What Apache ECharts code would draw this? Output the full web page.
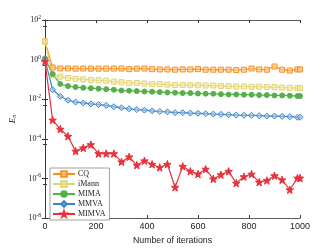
<!DOCTYPE html>
<html><head><meta charset="utf-8">
<script src="https://cdn.jsdelivr.net/npm/echarts@6/dist/echarts.min.js"></script>
<style>html,body{margin:0;padding:0;background:#fff}#c{width:332px;height:250px}</style>
</head><body><div id="c"></div>
<script>
const iterations = [0,30,60,90,120,150,180,210,240,270,300,330,360,390,420,450,480,510,540,570,600,630,660,690,720,750,780,810,840,870,900,930,960,990,1000];
const CQ = [8.3,0.40,0.36,0.36,0.35,0.355,0.35,0.35,0.35,0.355,0.355,0.33,0.35,0.355,0.33,0.32,0.32,0.31,0.32,0.32,0.33,0.31,0.31,0.31,0.31,0.295,0.31,0.355,0.32,0.31,0.45,0.31,0.28,0.32,0.32];
const iMann = [8.3,0.166,0.138,0.117,0.107,0.100,0.093,0.091,0.087,0.078,0.072,0.066,0.065,0.062,0.059,0.058,0.055,0.052,0.052,0.051,0.051,0.049,0.049,0.047,0.046,0.044,0.044,0.043,0.043,0.041,0.041,0.039,0.038,0.036,0.036];
const MIMA = [1.15,0.186,0.059,0.046,0.041,0.038,0.036,0.034,0.032,0.030,0.0275,0.027,0.0257,0.0245,0.024,0.023,0.022,0.0214,0.0204,0.0204,0.0195,0.019,0.019,0.018,0.0174,0.0174,0.017,0.017,0.0162,0.0162,0.0155,0.0155,0.0151,0.0145,0.0145];
const MMVA = [1.0,0.030,0.0141,0.0089,0.0072,0.0065,0.0058,0.0054,0.0049,0.0042,0.0037,0.0033,0.0030,0.0028,0.0026,0.0024,0.0023,0.0021,0.0021,0.0020,0.00195,0.00186,0.00178,0.00174,0.00166,0.00158,0.00155,0.00155,0.00148,0.00141,0.00141,0.00138,0.00132,0.00123,0.00123];
const MIMVA = [0.8,8.9e-4,3.1e-4,1.35e-4,2.4e-5,3.5e-5,5.1e-5,1.8e-5,1.8e-5,1.8e-5,6.9e-6,1.23e-5,4.7e-6,7.8e-6,5.2e-6,3.6e-6,5.2e-6,3.6e-7,4.1e-6,2.3e-6,1.66e-6,2.95e-6,9.5e-7,1.55e-6,2.3e-6,5.8e-7,1.23e-6,1.66e-6,6.5e-7,7.9e-7,1.38e-6,8.5e-7,2.7e-7,1.05e-6,1.05e-6];
const xTicks = [0,200,400,600,800,1000];

const star = 'path://M0,-10L2.35,-3.24L9.51,-3.09L3.8,1.24L5.88,8.09L0,4L-5.88,8.09L-3.8,1.24L-9.51,-3.09L-2.35,-3.24Z';
const pair = arr => iterations.map((x,i)=>[x,arr[i]]);
function mk(name, arr, color, symbol, size, fill){
  return {name, type:'line', data:pair(arr), symbol, symbolSize:size,
    lineStyle:{color, width:1.2}, itemStyle:{color:fill, borderColor:color, borderWidth:1},
    emphasis:{disabled:true}, animation:false};
}
const chart = echarts.init(document.getElementById('c'), null, {renderer:'canvas'});
const axCol = '#333';
chart.setOption({
  animation:false,
  grid:{left:43, right:32, top:20, bottom:29, show:false},
  legend:{orient:'vertical', left:50, top:168, itemWidth:22, itemHeight:7, itemGap:2,
    padding:[2,4,2,2], borderColor:'#888', borderWidth:0.8, backgroundColor:'#fff',
    textStyle:{fontFamily:'Liberation Serif', fontSize:8, color:'#222', padding:[0,0,0,-2]},
    data:['CQ','iMann','MIMA','MMVA','MIMVA']},
  xAxis:[
    {type:'value', min:0, max:1000, interval:200, position:'bottom',
     axisLine:{lineStyle:{color:axCol, width:0.8}}, axisTick:{inside:true, length:3, lineStyle:{color:axCol}},
     axisLabel:{fontFamily:'Liberation Sans', fontSize:9, color:'#222', margin:4,
       formatter:v=> xTicks.includes(v)? String(v):''},
     splitLine:{show:false},
     name:'Number of iterations', nameLocation:'middle', nameGap:16,
     nameTextStyle:{fontFamily:'Liberation Sans', fontSize:8.8, color:'#222'}},
    {type:'value', min:0, max:1000, interval:200, position:'top',
     axisLine:{lineStyle:{color:axCol, width:0.8}}, axisTick:{inside:true, length:3, lineStyle:{color:axCol}},
     axisLabel:{show:false}, splitLine:{show:false}}
  ],
  yAxis:[
    {type:'log', logBase:10, min:1e-8, max:1e2, interval:2, position:'left',
     axisLine:{show:true, lineStyle:{color:axCol, width:0.8}},
     axisTick:{show:true, inside:true, length:3, lineStyle:{color:axCol}},
     minorTick:{show:true, splitNumber:2, length:2, lineStyle:{color:axCol}},
     splitLine:{show:false},
     axisLabel:{margin:4, formatter:v=>{const e=Math.round(Math.log10(v)); return '{b|10}{s|'+e+'}';},
       rich:{b:{fontFamily:'Liberation Serif', fontSize:8, color:'#222'},
             s:{fontFamily:'Liberation Serif', fontSize:5.5, color:'#222', verticalAlign:'top', padding:[0,0,5,0]}}},
     name:'{i|E}{n|n}', nameLocation:'middle', nameGap:26, nameRotate:90,
     nameTextStyle:{rich:{i:{fontFamily:'Liberation Serif', fontStyle:'italic', fontSize:9, color:'#222'},
                          n:{fontFamily:'Liberation Serif', fontStyle:'italic', fontSize:6, color:'#222', padding:[4,0,0,0]}}}},
    {type:'log', logBase:10, min:1e-8, max:1e2, interval:2, position:'right',
     axisLine:{show:true, lineStyle:{color:axCol, width:0.8}},
     axisTick:{show:true, inside:true, length:3, lineStyle:{color:axCol}},
     minorTick:{show:true, splitNumber:2, length:2, lineStyle:{color:axCol}},
     axisLabel:{show:false}, splitLine:{show:false}}
  ],
  series:[
    mk('CQ', CQ, '#F7901E', 'rect', 5, 'rgba(250,200,140,0.6)'),
    mk('iMann', iMann, '#E2D46E', 'rect', 5, 'rgba(240,232,170,0.6)'),
    mk('MIMA', MIMA, '#55B04C', 'circle', 5, '#55B04C'),
    mk('MMVA', MMVA, '#3C84C8', 'diamond', 6, 'rgba(160,200,235,0.6)'),
    mk('MIMVA', MIMVA, '#E8313A', star, 7.5, '#E8313A')
  ]
});
</script></body></html>
